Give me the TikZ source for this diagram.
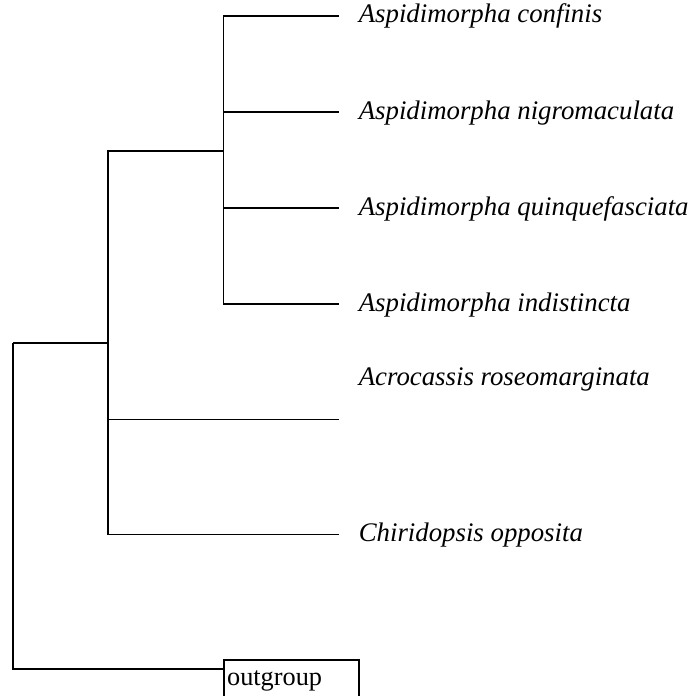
\documentclass[tikz,border=0pt]{standalone}
\usepackage{fontspec}
\setmainfont{Liberation Serif}
\begin{document}
\begin{tikzpicture}[x=1pt,y=-1pt,line width=1.6pt,line join=miter,
  branch/.style={draw=black},
  taxon/.style={anchor=base west,inner sep=0pt,font=\fontsize{26.8}{30}\selectfont\itshape},
  ogbox/.style={draw=black,line width=1.6pt,anchor=north west,inner xsep=3pt,inner ysep=0pt,
    text width=129pt,text height=26pt,text depth=30pt,align=left,font=\fontsize{26.3}{30}\selectfont}]
\useasboundingbox (0,0) rectangle (693,696);
\clip (0,0) rectangle (693,696);
% internal nodes
\coordinate (root) at (13,342.7);
\coordinate (n1) at (108,342.7);
\coordinate (n2) at (223.5,150.7);
% branch ends
\coordinate (e1) at (339,15.7);
\coordinate (e2) at (339,112);
\coordinate (e3) at (339,208);
\coordinate (e4) at (339,304);
\coordinate (e5) at (339,419.3);
\coordinate (e6) at (339,534.3);
\coordinate (e7) at (224,668.7);
% labels
\node[taxon] (t1) at (358,22.7) {Aspidimorpha confinis};
\node[taxon] (t2) at (358,119) {Aspidimorpha nigromaculata};
\node[taxon] (t3) at (358,215) {Aspidimorpha quinquefasciata};
\node[taxon] (t4) at (358,311) {Aspidimorpha indistincta};
\node[taxon] (t5) at (358,385) {Acrocassis roseomarginata};
\node[taxon] (t6) at (358,541.3) {Chiridopsis opposita};
\node[ogbox] (og) at (223.3,659) {outgroup};
% branches
\draw[branch] (root) -- (n1);
\draw[branch] (root) |- (e7);
\draw[branch] (n1) |- (n2);
\draw[branch] (n1) |- (e5);
\draw[branch] (n1) |- (e6);
\draw[branch] (n2) |- (e1);
\draw[branch] (n2) |- (e2);
\draw[branch] (n2) |- (e3);
\draw[branch] (n2) |- (e4);
\end{tikzpicture}
\end{document}
